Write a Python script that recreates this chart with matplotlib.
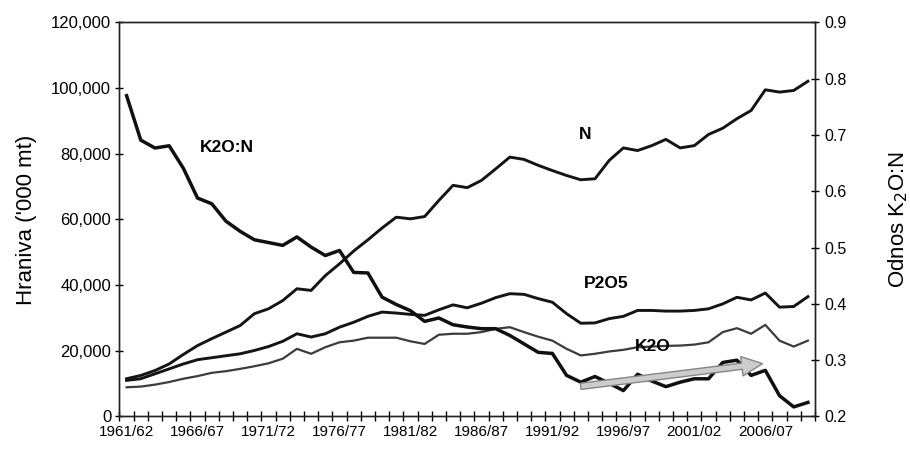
import numpy as np
import matplotlib.pyplot as plt
from matplotlib.patches import FancyArrowPatch
from matplotlib.ticker import FuncFormatter, FixedLocator

plt.rcParams['font.family'] = ['Liberation Sans', 'DejaVu Sans']

# godine 1961/62 ... 2009/10
godine = [f'{g}/{str(g + 1)[2:]}' for g in range(1961, 2010)]
oznake_x = ['1961/62', '1966/67', '1971/72', '1976/77', '1981/82',
            '1986/87', '1991/92', '1996/97', '2001/02', '2006/07']

# hraniva ('000 mt), ocitano sa slike
N = [11500, 12500, 14000, 16000, 18900, 21600, 23700, 25700, 27700, 31300,
     32800, 35300, 38900, 38400, 42900, 46500, 50400, 53800, 57400, 60700,
     60200, 60900, 65800, 70400, 69700, 71900, 75400, 79000, 78300, 76500,
     74900, 73400, 72100, 72400, 78000, 81800, 81000, 82500, 84400, 81800,
     82500, 85900, 87800, 90700, 93200, 99500, 98800, 99300, 102100]
P2O5 = [11000, 11500, 13000, 14500, 16000, 17300, 17900, 18500, 19100, 20100,
        21300, 22900, 25200, 24200, 25200, 27200, 28700, 30500, 31800, 31500,
        31100, 30800, 32500, 34000, 33100, 34500, 36200, 37400, 37200, 35900,
        34800, 31300, 28400, 28500, 29800, 30500, 32300, 32300, 32100, 32100,
        32300, 32800, 34300, 36300, 35500, 37600, 33300, 33500, 36500]
K2O = [8900, 9100, 9700, 10500, 11500, 12300, 13300, 13800, 14500, 15300,
       16200, 17600, 20600, 19100, 21100, 22600, 23100, 24000, 24000, 24000,
       22900, 22100, 24900, 25200, 25200, 25700, 26700, 27200, 25700, 24300,
       23100, 20600, 18600, 19100, 19800, 20300, 21100, 21300, 21500, 21600,
       21900, 22600, 25700, 26900, 25200, 27900, 23100, 21300, 23100]
# odnos K2O:N (desna os)
odnos = [0.770, 0.691, 0.677, 0.681, 0.641, 0.588, 0.578, 0.547, 0.529, 0.514,
         0.509, 0.504, 0.519, 0.501, 0.486, 0.495, 0.456, 0.455, 0.412, 0.399,
         0.388, 0.369, 0.375, 0.363, 0.359, 0.356, 0.356, 0.344, 0.329, 0.314,
         0.312, 0.273, 0.261, 0.271, 0.259, 0.246, 0.275, 0.263, 0.253, 0.261,
         0.267, 0.267, 0.296, 0.300, 0.273, 0.282, 0.237, 0.217, 0.225]

# strelica trenda (pocetak i kraj, desna os)
strelica_od = (31.8, 0.253)
strelica_do = (45.0, 0.2945)

x = np.arange(len(godine))

fig = plt.figure(figsize=(9.1, 4.49), dpi=100)
ax = fig.add_axes([0.1313, 0.0724, 0.7643, 0.8775])
ax2 = ax.twinx()

ax.plot(x, N, color='#141414', lw=2.1, solid_joinstyle='round')
ax.plot(x, P2O5, color='#141414', lw=2.1, solid_joinstyle='round')
ax.plot(x, K2O, color='#3c3c3c', lw=1.6, solid_joinstyle='round')
ax2.plot(x, odnos, color='#101010', lw=2.5, solid_joinstyle='round')

arr = FancyArrowPatch(strelica_od, strelica_do,
                      arrowstyle='simple,head_length=15,head_width=14,tail_width=4.5',
                      mutation_scale=1, facecolor='#cccccc', edgecolor='#858585',
                      lw=1.0, zorder=5)
ax2.add_patch(arr)

# natpisi serija
ax.text(7.1, 82000, 'K2O:N', fontsize=12.5, fontweight='bold', ha='center', va='center')
ax.text(32.3, 86000, 'N', fontsize=12.5, fontweight='bold', ha='center', va='center')
ax.text(33.8, 40600, 'P2O5', fontsize=12.5, fontweight='bold', ha='center', va='center')
ax.text(37.1, 21200, 'K2O', fontsize=12.5, fontweight='bold', ha='center', va='center')

ax.set_xlim(-0.5, len(godine) - 0.5)
ax.set_ylim(0, 120000)
ax2.set_ylim(0.2, 0.9)

ax.set_yticks(np.arange(0, 120001, 20000))
ax.yaxis.set_major_formatter(FuncFormatter(lambda v, p: f'{v:,.0f}'))
ax2.set_yticks(np.arange(0.2, 0.91, 0.1))
ax2.yaxis.set_major_formatter(FuncFormatter(lambda v, p: f'{v:.1f}'))

pos = [godine.index(o) for o in oznake_x]
ax.set_xticks(pos)
ax.set_xticklabels(oznake_x)
ax.xaxis.set_minor_locator(FixedLocator(np.arange(-0.5, len(godine), 1.0)))
ax.tick_params(axis='x', which='major', length=0, labelsize=11, pad=6)
ax.tick_params(axis='x', which='minor', direction='inout', length=7, width=1)
ax.tick_params(axis='y', direction='inout', length=6, width=1, labelsize=12, pad=3)
ax2.tick_params(axis='y', direction='inout', length=6, width=1, labelsize=11.5, pad=4)

for a in (ax, ax2):
    for s in a.spines.values():
        s.set_linewidth(1.0)
        s.set_color('#222222')

ax.set_ylabel("Hraniva ('000 mt)", fontsize=16, labelpad=10)
ax2.set_ylabel('Odnos K$_2$O:N', fontsize=16, labelpad=28)

fig.savefig('out.png', dpi=100)
